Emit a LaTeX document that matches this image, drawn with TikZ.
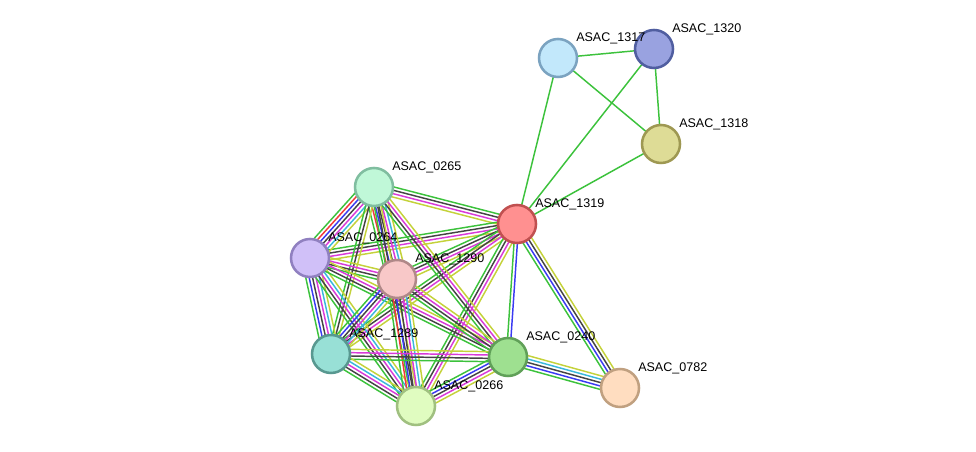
\documentclass[tikz,border=0pt]{standalone}
\usepackage{fontspec}
\setmainfont{Liberation Sans}
\usetikzlibrary{calc,backgrounds}

\definecolor{cN}{HTML}{3CC23C}
\definecolor{cF}{HTML}{F23A3A}
\definecolor{cC}{HTML}{3A3AF2}
\definecolor{cX}{HTML}{444444}
\definecolor{cE}{HTML}{D93AD9}
\definecolor{cD}{HTML}{3AB8DC}
\definecolor{cT}{HTML}{C4D23A}

\tikzset{
  prot/.style={circle,minimum size=28.5pt,inner sep=0pt,line width=1.9pt},
  lbl/.style={anchor=base west,inner sep=0pt,font=\fontsize{9.4}{11}\selectfont},
  trait/.style={line width=1.1pt}
}

% lien multicolore : #1 -- #2, #3 traits, couleurs #4
\newcommand{\lien}[4]{%
  \foreach \c [count=\i] in {#4} {%
    \pgfmathsetmacro\dec{(\i-(#3+1)/2)*2.5}
    \draw[trait,\c] ($(#1)!\dec pt!90:(#2)$) -- ($(#2)!\dec pt!-90:(#1)$);
  }}

\begin{document}
\begin{tikzpicture}[x=0.75pt,y=-0.75pt]
\useasboundingbox (0,0) rectangle (976,452);
%Proteines
\node[prot,fill={rgb,255:red,194;green,232;blue,251},draw={rgb,255:red,123;green,163;blue,192}] (n1317) at (558,58) {};
\node[prot,fill={rgb,255:red,153;green,162;blue,224},draw={rgb,255:red,80;green,94;blue,160}] (n1320) at (654,49) {};
\node[prot,fill={rgb,255:red,222;green,220;blue,150},draw={rgb,255:red,158;green,152;blue,82}] (n1318) at (661,144) {};
\node[prot,fill={rgb,255:red,255;green,144;blue,144},draw={rgb,255:red,192;green,80;blue,80}] (n1319) at (517,224) {};
\node[prot,fill={rgb,255:red,192;green,248;blue,216},draw={rgb,255:red,128;green,190;blue,160}] (n0265) at (374,187) {};
\node[prot,fill={rgb,255:red,208;green,192;blue,248},draw={rgb,255:red,144;green,128;blue,192}] (n0264) at (310,258) {};
\node[prot,fill={rgb,255:red,248;green,200;blue,200},draw={rgb,255:red,176;green,136;blue,136}] (n1290) at (397,279) {};
\node[prot,fill={rgb,255:red,152;green,224;blue,214},draw={rgb,255:red,88;green,152;blue,144}] (n1289) at (331,354) {};
\node[prot,fill={rgb,255:red,158;green,224;blue,144},draw={rgb,255:red,96;green,160;blue,88}] (n0240) at (508,357) {};
\node[prot,fill={rgb,255:red,224;green,252;blue,192},draw={rgb,255:red,160;green,192;blue,128}] (n0266) at (416,406) {};
\node[prot,fill={rgb,255:red,255;green,221;blue,192},draw={rgb,255:red,192;green,160;blue,128}] (n0782) at (620,388) {};
%Etiquettes
\node[lbl] (t1317) at ([shift={(18,-16)}]n1317.center) {ASAC\_1317};
\node[lbl] (t1320) at ([shift={(18,-16)}]n1320.center) {ASAC\_1320};
\node[lbl] (t1318) at ([shift={(18,-16)}]n1318.center) {ASAC\_1318};
\node[lbl] (t1319) at ([shift={(18,-16)}]n1319.center) {ASAC\_1319};
\node[lbl] (t0265) at ([shift={(18,-16)}]n0265.center) {ASAC\_0265};
\node[lbl] (t0264) at ([shift={(18,-16)}]n0264.center) {ASAC\_0264};
\node[lbl] (t1290) at ([shift={(18,-16)}]n1290.center) {ASAC\_1290};
\node[lbl] (t1289) at ([shift={(18,-16)}]n1289.center) {ASAC\_1289};
\node[lbl] (t0240) at ([shift={(18,-16)}]n0240.center) {ASAC\_0240};
\node[lbl] (t0266) at ([shift={(18,-16)}]n0266.center) {ASAC\_0266};
\node[lbl] (t0782) at ([shift={(18,-16)}]n0782.center) {ASAC\_0782};
%Aretes du reseau
\begin{pgfonlayer}{background}
\lien{n1317}{n1320}{1}{cN}
\lien{n1317}{n1318}{1}{cN}
\lien{n1317}{n1319}{1}{cN}
\lien{n1320}{n1318}{1}{cN}
\lien{n1320}{n1319}{1}{cN}
\lien{n1318}{n1319}{1}{cN}
\lien{n1319}{n0265}{4}{cN,cX,cE,cT}
\lien{n1319}{n0264}{4}{cN,cX,cE,cT}
\lien{n1319}{n1290}{4}{cN,cX,cE,cT}
\lien{n1319}{n1289}{4}{cN,cX,cE,cT}
\lien{n1319}{n0266}{4}{cN,cX,cE,cT}
\lien{n1319}{n0240}{2}{cN,cC}
\lien{n1319}{n0782}{4}{cN,cC,cX,cT}
\lien{n0240}{n0782}{5}{cN,cC,cX,cD,cT}
\lien{n0265}{n0264}{7}{cN,cF,cC,cX,cE,cD,cT}
\lien{n0265}{n1290}{7}{cN,cF,cC,cX,cE,cD,cT}
\lien{n0265}{n1289}{3}{cN,cX,cT}
\lien{n0265}{n0266}{3}{cN,cX,cT}
\lien{n0265}{n0240}{4}{cN,cX,cE,cT}
\lien{n0264}{n1290}{4}{cN,cX,cE,cT}
\lien{n0264}{n1289}{6}{cN,cC,cX,cE,cD,cT}
\lien{n0264}{n0266}{5}{cN,cX,cE,cD,cT}
\lien{n0264}{n0240}{4}{cN,cX,cE,cT}
\lien{n1290}{n1289}{6}{cN,cC,cX,cE,cD,cT}
\lien{n1290}{n0266}{7}{cN,cF,cC,cX,cE,cD,cT}
\lien{n1290}{n0240}{4}{cN,cX,cE,cT}
\lien{n1289}{n0240}{4}{cN,cX,cE,cT}
\lien{n1289}{n0266}{5}{cN,cX,cE,cD,cT}
\lien{n0240}{n0266}{5}{cN,cC,cX,cE,cT}
\end{pgfonlayer}
\end{tikzpicture}
\end{document}
